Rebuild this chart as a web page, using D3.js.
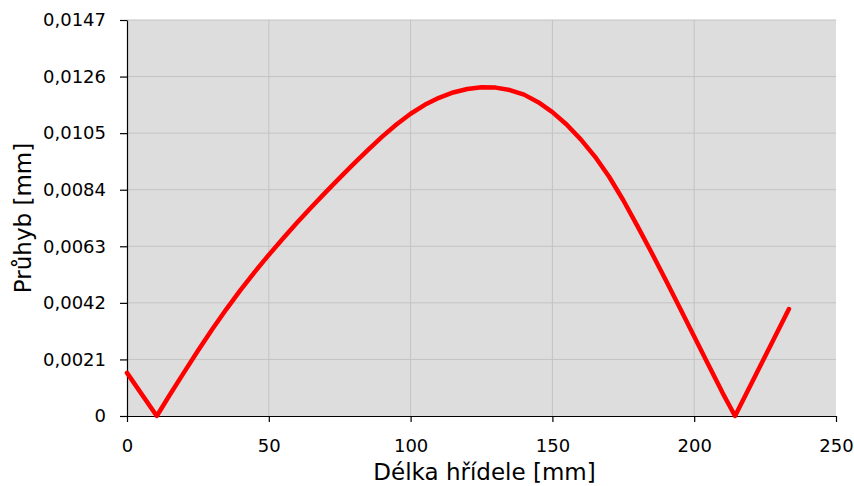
<!DOCTYPE html>
<html>
<head>
<meta charset="utf-8">
<script src="https://cdn.jsdelivr.net/npm/d3@7"></script>
<style>
  html, body { margin: 0; padding: 0; background: #ffffff; }
  svg { display: block; }
  text { font-family: "DejaVu Sans", Verdana, sans-serif; fill: #000; }
</style>
</head>
<body>
<svg id="chart" width="854" height="486"></svg>
<script>
// Data
const lengthMm = [0, 10.5, 15, 20, 25, 30, 35, 40, 45, 50, 55, 60, 65, 70, 75, 80, 85, 90, 95, 100,
  105, 110, 115, 120, 125, 130, 135, 140, 145, 150, 155, 160, 165, 170, 175, 180, 185, 190, 195, 200,
  205, 210, 214.4, 233.4];
const deflectionMm = [0.00160, 0.00000, 0.00077, 0.00160, 0.00242, 0.00321, 0.00396, 0.00467, 0.00534, 0.00598,
  0.00659, 0.00718, 0.00775, 0.00830, 0.00884, 0.00937, 0.00988, 0.01037, 0.01082, 0.01122,
  0.01155, 0.01181, 0.01201, 0.01214, 0.01220, 0.01219, 0.01210, 0.01193, 0.01165, 0.01128,
  0.01082, 0.01027, 0.00963, 0.00888, 0.00801, 0.00705, 0.00606, 0.00504, 0.00400, 0.00295,
  0.00190, 0.00086, 0.00000, 0.00397];
const xTicks = [0, 50, 100, 150, 200, 250];
const yTicks = [0, 0.0021, 0.0042, 0.0063, 0.0084, 0.0105, 0.0126, 0.0147];
const xTitle = "Délka hřídele [mm]";
const yTitle = "Průhyb [mm]";

const svg = d3.select("#chart");
const mLeft = 127, mRight = 836, mTop = 20, mBottom = 416;

const x = d3.scaleLinear().domain([0, 250]).range([mLeft, mRight]);
const y = d3.scaleLinear().domain([0, 0.0147]).range([mBottom, mTop]);

// plot background
svg.append("rect")
  .attr("x", mLeft).attr("y", mTop)
  .attr("width", mRight - mLeft).attr("height", mBottom - mTop)
  .attr("fill", "#dddddd");

// gridlines
svg.append("g").selectAll("line")
  .data(yTicks.filter(d => d > 0))
  .join("line")
  .attr("x1", mLeft).attr("x2", mRight)
  .attr("y1", d => y(d)).attr("y2", d => y(d))
  .attr("stroke", "#c3c3c3").attr("stroke-width", 1);
svg.append("g").selectAll("line")
  .data(xTicks.filter(d => d > 0 && d < 250))
  .join("line")
  .attr("x1", d => x(d)).attr("x2", d => x(d))
  .attr("y1", mTop).attr("y2", mBottom)
  .attr("stroke", "#c3c3c3").attr("stroke-width", 1);

const fmt = d => d === 0 ? "0" : d.toFixed(4).replace(".", ",");

// axes
const xAxis = d3.axisBottom(x).tickValues(xTicks).tickSize(6).tickSizeOuter(0).tickFormat(d => d);
const yAxis = d3.axisLeft(y).tickValues(yTicks).tickSize(7).tickSizeOuter(0).tickFormat(fmt);

const gx = svg.append("g").attr("transform", `translate(0,${mBottom})`).call(xAxis);
const gy = svg.append("g").attr("transform", `translate(${mLeft},0)`).call(yAxis);

[gx, gy].forEach(g => {
  g.select(".domain").attr("stroke", "#000").attr("stroke-width", 1.2);
  g.selectAll(".tick line").attr("stroke", "#000").attr("stroke-width", 1.2);
  g.selectAll(".tick text").attr("font-family", "DejaVu Sans, Verdana, sans-serif")
    .attr("font-size", 18).attr("fill", "#000");
});
gx.selectAll(".tick text").attr("y", 36).attr("dy", 0);
gy.selectAll(".tick text").attr("x", -21);

// line
const line = d3.line()
  .x((d, i) => x(lengthMm[i]))
  .y(d => y(d))
  .curve(d3.curveLinear);

svg.append("path")
  .datum(deflectionMm)
  .attr("d", line)
  .attr("fill", "none")
  .attr("stroke", "#ff0000")
  .attr("stroke-width", 4.5)
  .attr("stroke-linejoin", "round")
  .attr("stroke-linecap", "round");

// titles
svg.append("text")
  .attr("x", (mLeft + mRight) / 2 + 3).attr("y", 480)
  .attr("text-anchor", "middle")
  .attr("font-size", 23)
  .text(xTitle);

svg.append("text")
  .attr("transform", `translate(31,${(mTop + mBottom) / 2}) rotate(-90)`)
  .attr("text-anchor", "middle")
  .attr("font-size", 23)
  .text(yTitle);
</script>
</body>
</html>
